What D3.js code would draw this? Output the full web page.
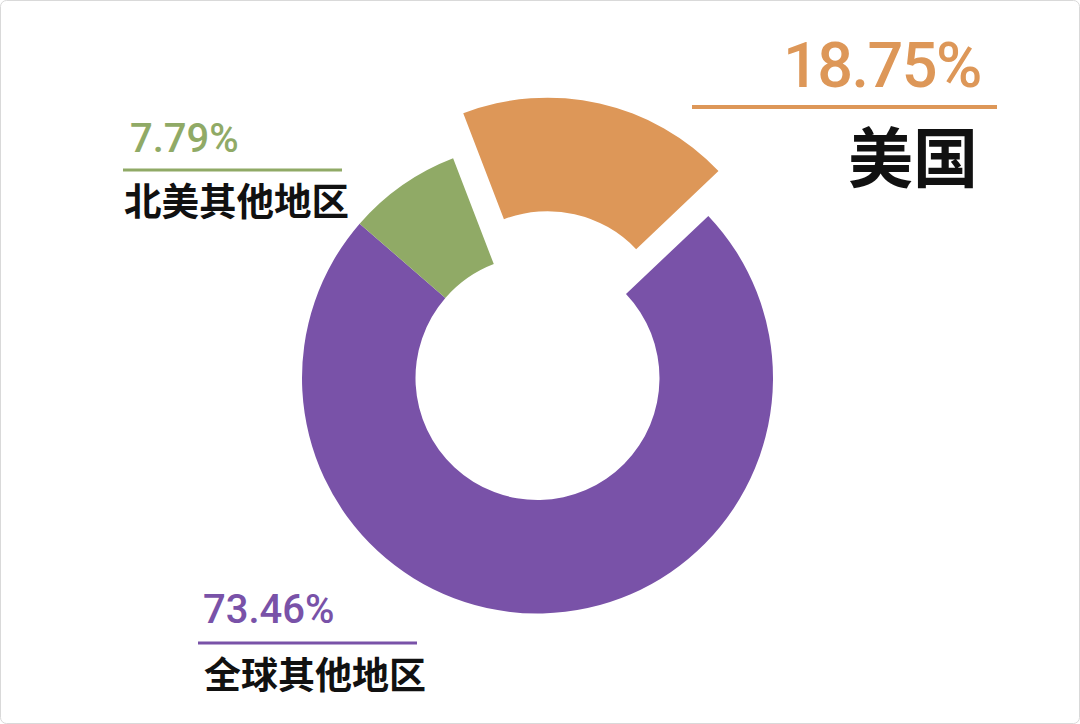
<!DOCTYPE html>
<html>
<head>
<meta charset="utf-8">
<script src="https://cdn.jsdelivr.net/npm/d3@7"></script>
<style>
  html, body { margin: 0; padding: 0; background: #fff; }
  #chart { width: 1080px; height: 724px; }
  .pct { font-family: Roboto, "Noto Sans", sans-serif; font-weight: 500; }
  .name { font-family: "Noto Sans CJK SC", sans-serif; font-weight: 700; fill: #111; }
</style>
</head>
<body>
<div id="chart"></div>
<script>
// Shares of the total (%)
var categories = ["美国", "全球其他地区", "北美其他地区"];
var shares = [18.75, 73.46, 7.79];
var colors = ["#dd9758", "#7952a8", "#90aa66"];

var width = 1080;
var height = 724;

var svg = d3
  .select("#chart")
  .append("svg")
  .attr("width", width)
  .attr("height", height);

// thin frame round the picture
svg.append("rect")
  .attr("x", 0.5).attr("y", 0.5)
  .attr("width", width - 1).attr("height", height - 1)
  .attr("rx", 6)
  .attr("fill", "#fff")
  .attr("stroke", "#d9d9d9");

var cx = 537.5;
var cy = 378;
var outerR = 235.5;
var innerR = 122;
var explode = 46; // how far the first slice is pulled out

var startAngle = -21 * Math.PI / 180;

var pie = d3.pie()
  .sort(null)
  .value(function(d) { return d; })
  .startAngle(startAngle)
  .endAngle(startAngle + 2 * Math.PI);

var arc = d3.arc().innerRadius(innerR).outerRadius(outerR);

var slices = pie(shares);

var donut = svg.append("g")
  .attr("transform", "translate(" + cx + "," + cy + ")");

donut.selectAll("path")
  .data(slices)
  .enter()
  .append("path")
  .attr("d", arc)
  .attr("fill", function(d, i) { return colors[i]; })
  .attr("transform", function(d, i) {
    if (i !== 0) return null;
    var mid = (d.startAngle + d.endAngle) / 2;
    return "translate(" + (Math.sin(mid) * explode) + "," + (-Math.cos(mid) * explode) + ")";
  });

// Label placement for each slice (same order as categories)
var labelPos = [
  { anchor: "end", x: 981, pctY: 87, pctSize: 63, spacing: -1.5, lineX1: 692, lineX2: 997, lineY: 107, lineW: 4, nameX: 978, nameY: 182, nameSize: 65 },
  { anchor: "start", x: 203, pctY: 623, pctSize: 40, spacing: 0, lineX1: 198, lineX2: 417, lineY: 643, lineW: 3, nameX: 204, nameY: 689, nameSize: 37 },
  { anchor: "start", x: 130, pctY: 152, pctSize: 40, spacing: 0, lineX1: 123, lineX2: 342, lineY: 170, lineW: 3, nameX: 124, nameY: 215, nameSize: 37.5 }
];

var labels = svg.selectAll("g.label")
  .data(slices)
  .enter()
  .append("g")
  .attr("class", "label");

labels.append("text")
  .attr("class", "pct")
  .attr("x", function(d, i) { return labelPos[i].x; })
  .attr("y", function(d, i) { return labelPos[i].pctY; })
  .attr("text-anchor", function(d, i) { return labelPos[i].anchor; })
  .attr("font-size", function(d, i) { return labelPos[i].pctSize; })
  .attr("letter-spacing", function(d, i) { return labelPos[i].spacing; })
  .attr("fill", function(d, i) { return colors[i]; })
  .text(function(d) { return d3.format(".2f")(d.data) + "%"; });

labels.append("line")
  .attr("x1", function(d, i) { return labelPos[i].lineX1; })
  .attr("x2", function(d, i) { return labelPos[i].lineX2; })
  .attr("y1", function(d, i) { return labelPos[i].lineY; })
  .attr("y2", function(d, i) { return labelPos[i].lineY; })
  .attr("stroke", function(d, i) { return colors[i]; })
  .attr("stroke-width", function(d, i) { return labelPos[i].lineW; });

labels.append("text")
  .attr("class", "name")
  .attr("x", function(d, i) { return labelPos[i].nameX; })
  .attr("y", function(d, i) { return labelPos[i].nameY; })
  .attr("text-anchor", function(d, i) { return labelPos[i].anchor; })
  .attr("font-size", function(d, i) { return labelPos[i].nameSize; })
  .text(function(d, i) { return categories[i]; });
</script>
</body>
</html>
